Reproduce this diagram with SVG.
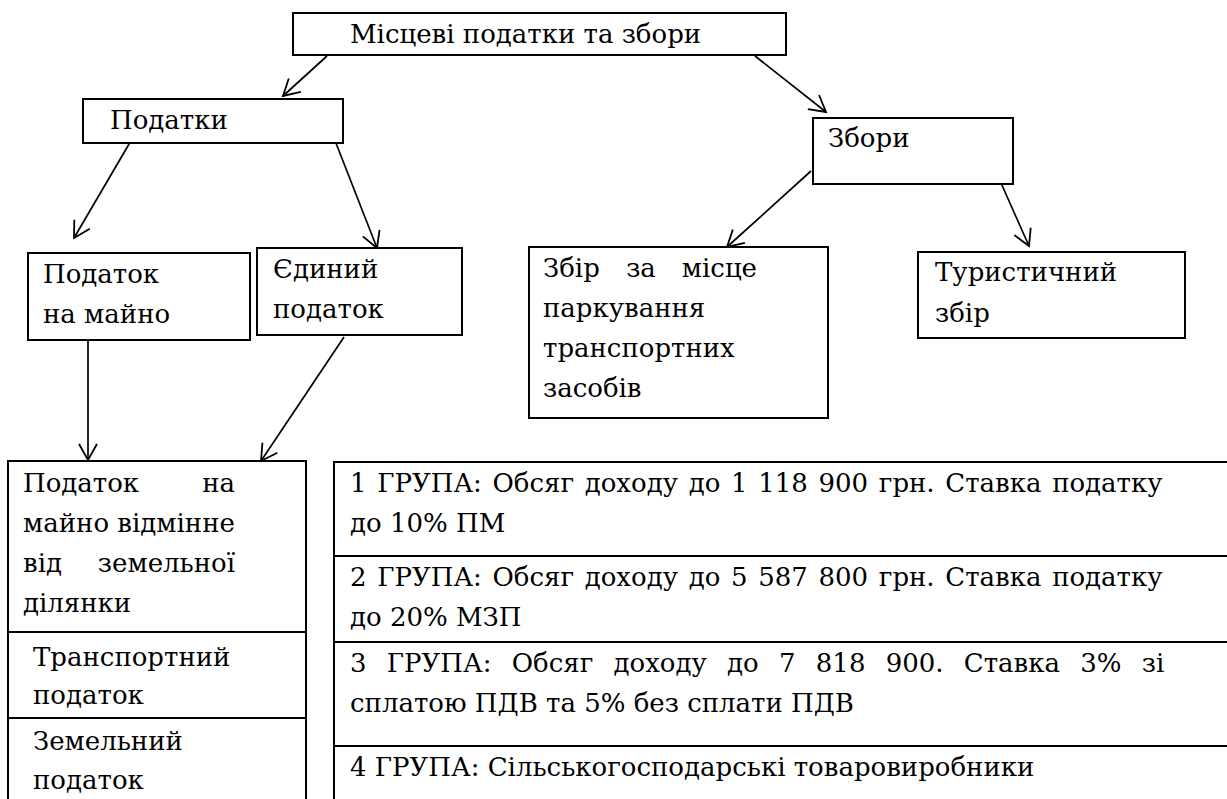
<svg xmlns="http://www.w3.org/2000/svg" width="1227" height="799" viewBox="0 0 1227 799">
<style>
  .box { fill: #fff; stroke: #000; stroke-width: 2; }
  .ln { stroke: #000; stroke-width: 2; fill: none; }
  text { font-family: 'DejaVu Serif', 'Liberation Serif', serif; font-size: 26px; fill: #000; }
  .con { stroke: #000; stroke-width: 1.7; fill: none; marker-end: url(#ah); }
</style>
<defs>
  <marker id="ah" markerUnits="userSpaceOnUse" markerWidth="22" markerHeight="22" viewBox="-18 -11 20 22" refX="0" refY="0" orient="auto">
    <path d="M-16,-9 L0,0 L-16,9" stroke="#000" stroke-width="1.8" fill="none"/>
  </marker>
</defs>
<rect width="1227" height="799" fill="#fff"/>

<g id="connectors">
  <line class="con" x1="327" y1="56" x2="283" y2="96"/>
  <line class="con" x1="755" y1="56" x2="826" y2="112"/>
  <line class="con" x1="132" y1="139" x2="74" y2="238"/>
  <line class="con" x1="334" y1="138" x2="377" y2="248"/>
  <line class="con" x1="811" y1="171" x2="727" y2="247"/>
  <line class="con" x1="1001" y1="183" x2="1029" y2="246"/>
  <line class="con" x1="88" y1="337" x2="88" y2="460"/>
  <line class="con" x1="344" y1="337" x2="261" y2="461"/>
</g>

<g id="root">
  <rect class="box" x="293" y="13" width="493" height="42"/>
  <text x="350" y="43">Місцеві податки та збори</text>
</g>

<g id="podatky">
  <rect class="box" x="83" y="99" width="260" height="44"/>
  <text x="110" y="129">Податки</text>
</g>

<g id="zbory">
  <rect class="box" x="813" y="118" width="200" height="66"/>
  <text x="828" y="147">Збори</text>
</g>

<g id="podatok-na-maino">
  <rect class="box" x="28" y="253" width="222" height="87"/>
  <text x="43" y="283">Податок</text>
  <text x="43" y="323">на майно</text>
</g>

<g id="yedynyi">
  <rect class="box" x="257" y="248" width="205" height="87"/>
  <text x="273" y="278">Єдиний</text>
  <text x="273" y="318">податок</text>
</g>

<g id="zbir-parkuvannia">
  <rect class="box" x="529" y="247" width="299" height="171"/>
  <text x="543" y="277">Збір</text>
  <text x="641" y="277" text-anchor="middle">за</text>
  <text x="757" y="277" text-anchor="end">місце</text>
  <text x="543" y="317">паркування</text>
  <text x="543" y="357">транспортних</text>
  <text x="543" y="397">засобів</text>
</g>

<g id="turystychnyi">
  <rect class="box" x="918" y="252" width="267" height="86"/>
  <text x="935" y="281">Туристичний</text>
  <text x="935" y="322">збір</text>
</g>

<g id="podatky-list">
  <path class="ln" d="M8,812 V461 H306 V812 M8,632 H306 M8,718 H306"/>
  <text x="23" y="492">Податок</text>
  <text x="235" y="492" text-anchor="end">на</text>
  <text x="23" y="532">майно відмінне</text>
  <text x="23" y="572">від</text>
  <text x="235" y="572" text-anchor="end">земельної</text>
  <text x="23" y="612">ділянки</text>
  <text x="33" y="666">Транспортний</text>
  <text x="33" y="704">податок</text>
  <text x="33" y="750">Земельний</text>
  <text x="33" y="789">податок</text>
</g>

<g id="grupy">
  <path class="ln" d="M334,812 V462 H1240 M334,556 H1240 M334,642 H1240 M334,746 H1240"/>
  <text x="350" y="492" word-spacing="2.4">1 ГРУПА: Обсяг доходу до 1 118 900 грн. Ставка податку</text>
  <text x="350" y="532">до 10% ПМ</text>
  <text x="350" y="586" word-spacing="2.4">2 ГРУПА: Обсяг доходу до 5 587 800 грн. Ставка податку</text>
  <text x="350" y="626">до 20% МЗП</text>
  <text x="350" y="672" word-spacing="12">3 ГРУПА: Обсяг доходу до 7 818 900. Ставка 3% зі</text>
  <text x="350" y="712">сплатою ПДВ та 5% без сплати ПДВ</text>
  <text x="350" y="776">4 ГРУПА: Сільськогосподарські товаровиробники</text>
</g>
</svg>
